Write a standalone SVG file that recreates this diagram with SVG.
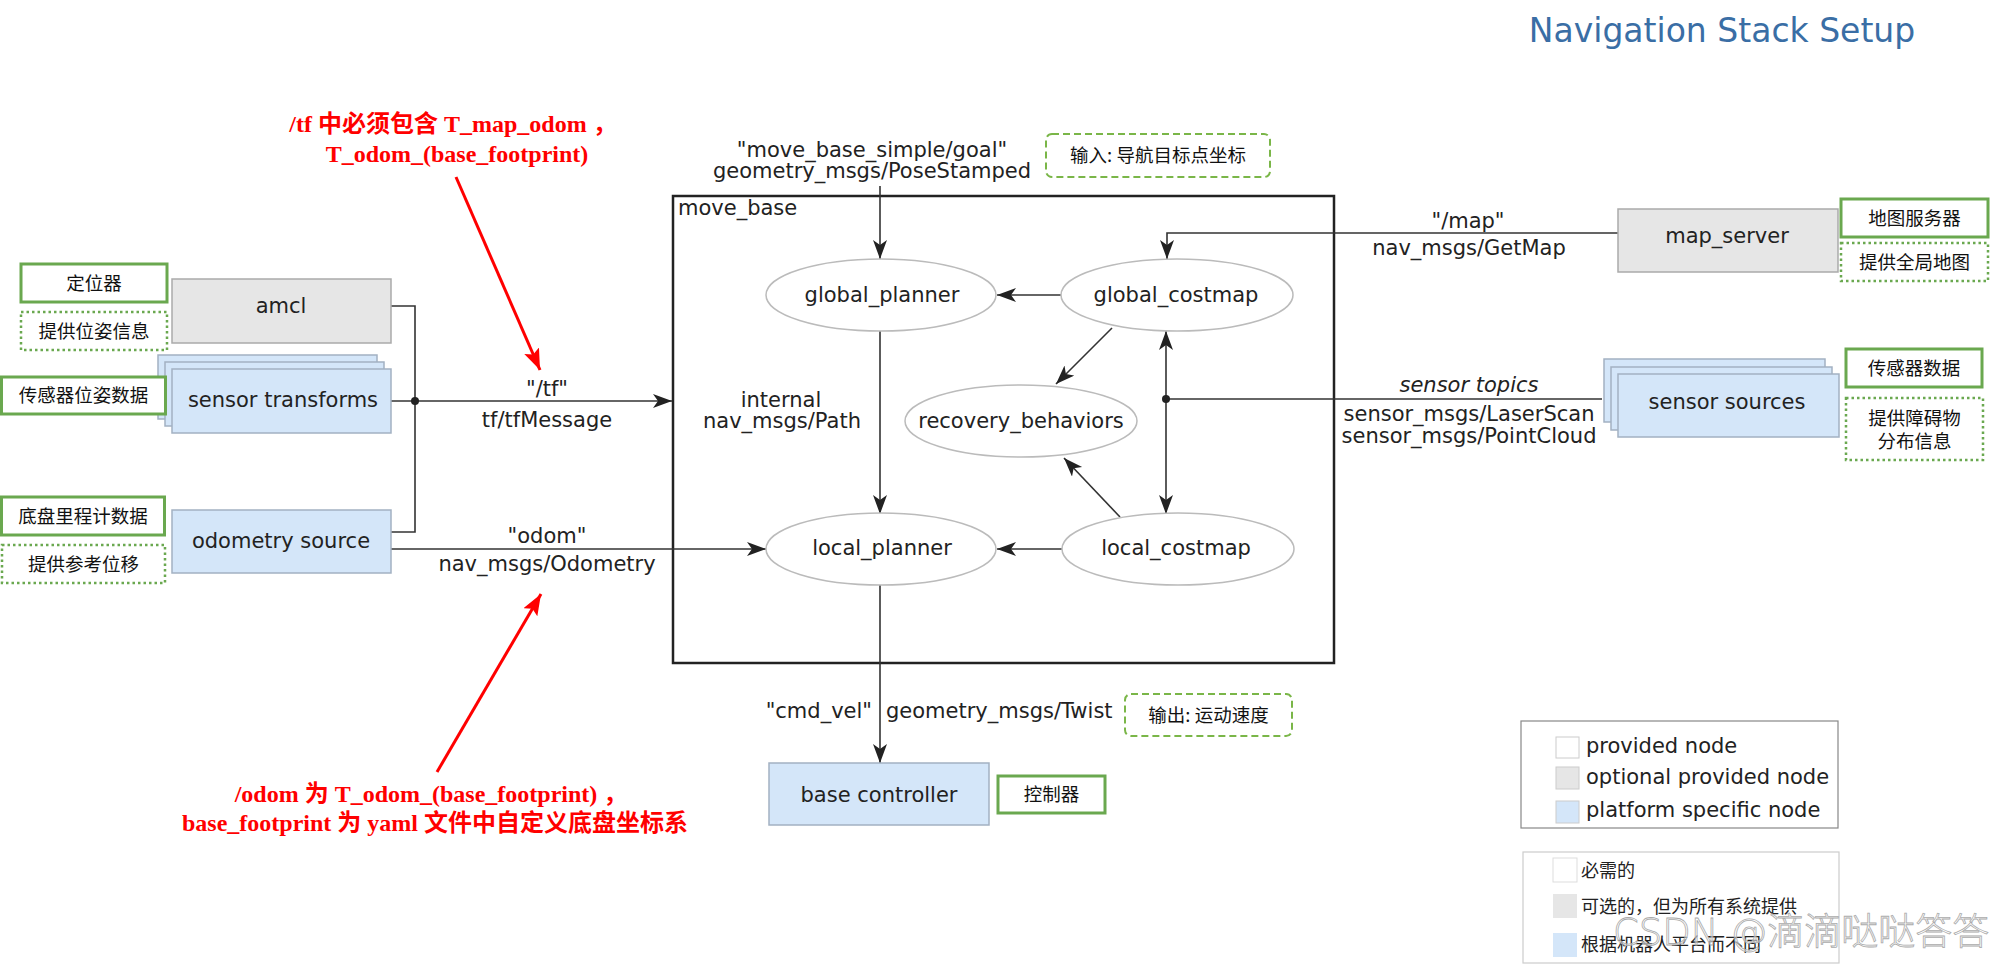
<svg xmlns="http://www.w3.org/2000/svg" width="1991" height="964" viewBox="0 0 1991 964">
<style>
.lbl{font-family:"DejaVu Sans","Noto Sans",sans-serif;font-size:21px;fill:#222;text-anchor:middle}
.cjk{font-family:"Noto Sans CJK SC","Noto Sans",sans-serif;font-size:18.5px;fill:#111;text-anchor:middle}
.red{font-family:"Liberation Serif","Noto Sans CJK SC",serif;font-weight:bold;font-size:24px;fill:#ff0000;text-anchor:middle}
.leg{font-family:"DejaVu Sans","Noto Sans",sans-serif;font-size:21px;fill:#222}
.legc{font-family:"Noto Sans CJK SC","Noto Sans",sans-serif;font-size:18px;fill:#222}
.gray{fill:#e6e6e6;stroke:#aaaaaa;stroke-width:1.5}
.blue{fill:#d4e6f9;stroke:#a3b1c2;stroke-width:1.5}
.ell{fill:#ffffff;stroke:#bbbbbb;stroke-width:1.5}
.gs{fill:#ffffff;stroke:#6aa84f;stroke-width:3}
.gd{fill:#ffffff;stroke:#6aa84f;stroke-width:2.5;stroke-dasharray:2.5 3}
.gdash{fill:#ffffff;stroke:#7ab648;stroke-width:2;stroke-dasharray:7 4}
.con{fill:none;stroke:#333333;stroke-width:1.6}
.arr{marker-end:url(#ah)}
.redl{stroke:#ff0000;stroke-width:3;fill:none;marker-end:url(#rh)}
</style>
<defs>
<marker id="ah" markerWidth="22" markerHeight="16" refX="19" refY="7" orient="auto" markerUnits="userSpaceOnUse">
<path d="M0,0 L19,7 L0,14 L5,7 Z" fill="#222"/>
</marker>
<marker id="rh" markerWidth="24" markerHeight="18" refX="21" refY="8" orient="auto" markerUnits="userSpaceOnUse">
<path d="M0,0 L21,8 L0,16 L4,8 Z" fill="#ff0000"/>
</marker>
</defs>
<rect width="1991" height="964" fill="#ffffff"/>

<text x="1722" y="42" style="font-family:'DejaVu Sans',sans-serif;font-size:33px;fill:#3a6ea5;text-anchor:middle">Navigation Stack Setup</text>

<g id="move_base">
<rect x="673" y="196" width="661" height="467" fill="none" stroke="#222" stroke-width="2.5"/>
<text x="678" y="215" class="lbl" style="text-anchor:start">move_base</text>
</g>

<g id="connectors">
<line x1="880" y1="186" x2="880" y2="259" class="con arr"/>
<line x1="880" y1="331" x2="880" y2="514" class="con arr"/>
<line x1="880" y1="585" x2="880" y2="763" class="con arr"/>
<line x1="1061" y1="295" x2="997" y2="295" class="con arr"/>
<line x1="1062" y1="549" x2="997" y2="549" class="con arr"/>
<line x1="1112" y1="328" x2="1056" y2="384" class="con arr"/>
<line x1="1120" y1="517" x2="1064" y2="458" class="con arr"/>
<path d="M1618,233 H1167 V259" class="con arr"/>
<line x1="1602" y1="399" x2="1166" y2="399" class="con"/>
<line x1="1166" y1="399" x2="1166" y2="331" class="con arr"/>
<line x1="1166" y1="399" x2="1166" y2="514" class="con arr"/>
<circle cx="1166" cy="399" r="4" fill="#222"/>
<path d="M391,306 H415 V532 H391" class="con"/>
<line x1="391" y1="401" x2="672" y2="401" class="con arr"/>
<circle cx="415" cy="401" r="4" fill="#222"/>
<line x1="391" y1="549" x2="766" y2="549" class="con arr"/>
</g>

<g id="connector-labels">
<text x="872" y="157" class="lbl">"move_base_simple/goal"</text>
<text x="872" y="178" class="lbl">geometry_msgs/PoseStamped</text>
<text x="781" y="407" class="lbl">internal</text>
<text x="782" y="428" class="lbl">nav_msgs/Path</text>
<text x="1468" y="228" class="lbl">"/map"</text>
<text x="1469" y="255" class="lbl">nav_msgs/GetMap</text>
<text x="1469" y="392" class="lbl" style="font-style:italic">sensor topics</text>
<text x="1469" y="421" class="lbl">sensor_msgs/LaserScan</text>
<text x="1469" y="443" class="lbl">sensor_msgs/PointCloud</text>
<text x="547" y="396" class="lbl">"/tf"</text>
<text x="547" y="427" class="lbl">tf/tfMessage</text>
<text x="547" y="543" class="lbl">"odom"</text>
<text x="547" y="571" class="lbl">nav_msgs/Odometry</text>
<text x="872" y="718" class="lbl" style="text-anchor:end">"cmd_vel"</text>
<text x="886" y="718" class="lbl" style="text-anchor:start">geometry_msgs/Twist</text>
</g>

<g id="global_planner"><ellipse cx="881" cy="295" rx="115" ry="36" class="ell"/><text x="882" y="302" class="lbl">global_planner</text></g>
<g id="global_costmap"><ellipse cx="1177" cy="295" rx="116" ry="36" class="ell"/><text x="1176" y="302" class="lbl">global_costmap</text></g>
<g id="recovery_behaviors"><ellipse cx="1021" cy="421" rx="116" ry="36" class="ell"/><text x="1021" y="428" class="lbl">recovery_behaviors</text></g>
<g id="local_planner"><ellipse cx="881" cy="549" rx="115" ry="36" class="ell"/><text x="882" y="555" class="lbl">local_planner</text></g>
<g id="local_costmap"><ellipse cx="1178" cy="549" rx="116" ry="36" class="ell"/><text x="1176" y="555" class="lbl">local_costmap</text></g>

<g id="amcl"><rect x="172" y="279" width="219" height="64" class="gray"/><text x="281" y="313" class="lbl">amcl</text></g>
<g id="sensor_transforms">
<rect x="158" y="355" width="219" height="64" class="blue"/>
<rect x="165" y="362" width="219" height="64" class="blue"/>
<rect x="172" y="369" width="219" height="64" class="blue"/>
<text x="283" y="407" class="lbl">sensor transforms</text>
</g>
<g id="odometry_source"><rect x="172" y="510" width="219" height="63" class="blue"/><text x="281" y="548" class="lbl">odometry source</text></g>
<g id="map_server"><rect x="1618" y="209" width="220" height="63" class="gray"/><text x="1727" y="243" class="lbl">map_server</text></g>
<g id="sensor_sources">
<rect x="1604" y="359" width="221" height="63" class="blue"/>
<rect x="1611" y="367" width="221" height="63" class="blue"/>
<rect x="1618" y="374" width="221" height="63" class="blue"/>
<text x="1727" y="409" class="lbl">sensor sources</text>
</g>
<g id="base_controller"><rect x="769" y="763" width="220" height="62" class="blue"/><text x="879" y="802" class="lbl">base controller</text></g>

<g id="note_dingweiqi"><rect x="21" y="264" width="146" height="38" class="gs"/><text x="94" y="289.5" class="cjk">定位器</text></g>
<g id="note_weizi"><rect x="21" y="312" width="146" height="38" class="gd"/><text x="94" y="337.5" class="cjk">提供位姿信息</text></g>
<g id="note_sensorpose"><rect x="1.5" y="377" width="164" height="37" class="gs"/><text x="83.5" y="402" class="cjk">传感器位姿数据</text></g>
<g id="note_odom"><rect x="1.5" y="497" width="163" height="38" class="gs"/><text x="83" y="522.5" class="cjk">底盘里程计数据</text></g>
<g id="note_weiyi"><rect x="2" y="545" width="163" height="38" class="gd"/><text x="83.5" y="570.5" class="cjk">提供参考位移</text></g>
<g id="note_input"><rect x="1046" y="134" width="224" height="43" rx="6" class="gdash"/><text x="1158" y="162" class="cjk">输入: 导航目标点坐标</text></g>
<g id="note_mapserver"><rect x="1841" y="199" width="147" height="38" class="gs"/><text x="1914.5" y="224.5" class="cjk">地图服务器</text></g>
<g id="note_globalmap"><rect x="1841" y="243" width="147" height="38" class="gd"/><text x="1914.5" y="268.5" class="cjk">提供全局地图</text></g>
<g id="note_sensordata"><rect x="1846" y="349" width="136" height="38" class="gs"/><text x="1914" y="374.5" class="cjk">传感器数据</text></g>
<g id="note_obstacle"><rect x="1846" y="398" width="137" height="62" class="gd"/><text x="1914.5" y="425" class="cjk">提供障碍物</text><text x="1914.5" y="448" class="cjk">分布信息</text></g>
<g id="note_output"><rect x="1125" y="694" width="167" height="42" rx="6" class="gdash"/><text x="1208.5" y="721.5" class="cjk">输出: 运动速度</text></g>
<g id="note_controller"><rect x="998" y="776" width="107" height="37" class="gs"/><text x="1051.5" y="801" class="cjk">控制器</text></g>

<g id="annotation_top">
<text x="453" y="132" class="red">/tf 中必须包含 T_map_odom ，</text>
<text x="457" y="162" class="red">T_odom_(base_footprint)</text>
<line x1="456" y1="177" x2="540" y2="370" class="redl"/>
</g>
<g id="annotation_bottom">
<text x="431" y="802" class="red">/odom 为 T_odom_(base_footprint) ，</text>
<text x="435" y="831" class="red">base_footprint 为 yaml 文件中自定义底盘坐标系</text>
<line x1="437" y1="772" x2="541" y2="594" class="redl"/>
</g>

<g id="legend_en">
<rect x="1521" y="721" width="317" height="107" fill="#fff" stroke="#888" stroke-width="1.2"/>
<rect x="1556" y="737" width="23" height="21" fill="#fff" stroke="#ccc"/>
<rect x="1556" y="767" width="23" height="22" fill="#e6e6e6" stroke="#ccc"/>
<rect x="1556" y="801" width="23" height="22" fill="#d4e6f9" stroke="#ccc"/>
<text x="1586" y="753" class="leg">provided node</text>
<text x="1586" y="784" class="leg">optional provided node</text>
<text x="1586" y="817" class="leg">platform specific node</text>
</g>
<g id="legend_cn">
<rect x="1523" y="852" width="316" height="111" fill="#fff" stroke="#ccc" stroke-width="1.2"/>
<rect x="1553" y="858" width="24" height="24" fill="#fff" stroke="#ddd"/>
<rect x="1553" y="894" width="24" height="24" fill="#e6e6e6" stroke="none"/>
<rect x="1553" y="933" width="24" height="24" fill="#d4e6f9" stroke="none"/>
<text x="1581" y="877" class="legc">必需的</text>
<text x="1581" y="913" class="legc">可选的，但为所有系统提供</text>
<text x="1581" y="951" class="legc">根据机器人平台而不同</text>
</g>

<text x="1613" y="945" style="font-family:'DejaVu Sans','Noto Sans CJK SC',sans-serif;font-size:37px;font-weight:300;fill:#ffffff;fill-opacity:0.5;stroke:#aaaaaa;stroke-width:0.8">CSDN @滴滴哒哒答答</text>
</svg>
